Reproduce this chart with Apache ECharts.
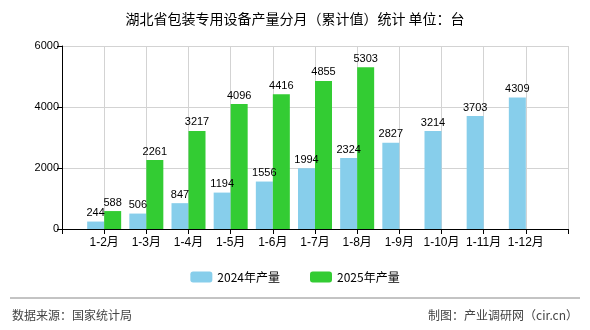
<!DOCTYPE html>
<html><head><meta charset="utf-8">
<script src="https://cdn.jsdelivr.net/npm/echarts@6/dist/echarts.min.js"></script>
<style>html,body{margin:0;padding:0;background:#fff}#c{width:590px;height:330px}</style>
</head><body><div id="c"></div>
<script>
var categories = ['1-2月','1-3月','1-4月','1-5月','1-6月','1-7月','1-8月','1-9月','1-10月','1-11月','1-12月'];
var values2024 = [244, 506, 847, 1194, 1556, 1994, 2324, 2827, 3214, 3703, 4309];
var values2025 = [588, 2261, 3217, 4096, 4416, 4855, 5303];
var yTicks = [0, 2000, 4000, 6000];

var axisCats = [''].concat(categories).concat(['']);
var s24 = [null].concat(values2024).concat([null]);
var s25 = [null].concat(values2025);
while (s25.length < axisCats.length) s25.push(null);

var chart = echarts.init(document.getElementById('c'));
var font = '"Liberation Sans", "Noto Sans CJK SC", sans-serif';
chart.setOption({
  animation: false,
  title: {
    text: '湖北省包装专用设备产量分月（累计值）统计 单位：台',
    left: 'center', top: 7,
    textStyle: {fontSize: 14, fontWeight: 'normal', color: '#000', fontFamily: '"Noto Sans CJK SC", sans-serif'}
  },
  grid: {left: 62, right: 22, top: 46, bottom: 101},
  legend: {
    bottom: 42, left: 'center', itemWidth: 22, itemHeight: 11, itemGap: 30,
    textStyle: {fontSize: 12, color: '#000', fontFamily: '"Noto Sans CJK SC", sans-serif'},
    data: ['2024年产量', '2025年产量']
  },
  xAxis: {
    type: 'category', data: axisCats, boundaryGap: false,
    axisLine: {lineStyle: {color: '#000'}},
    axisTick: {show: true, length: 5, lineStyle: {color: '#000'}},
    axisLabel: {color: '#000', fontSize: 12, margin: 8, interval: 0, fontFamily: font},
    splitLine: {show: true, lineStyle: {color: '#d3d3d3'}}
  },
  yAxis: {
    type: 'value', min: yTicks[0], max: yTicks[yTicks.length-1], interval: 2000,
    axisLine: {show: true, lineStyle: {color: '#000'}},
    axisTick: {show: true, length: 5, lineStyle: {color: '#000'}},
    axisLabel: {color: '#000', fontSize: 11, margin: 3, fontFamily: font, formatter: function (v) { return String(v); }},
    splitLine: {show: true, lineStyle: {color: '#d3d3d3'}}
  },
  series: [
    {name: '2024年产量', type: 'bar', data: s24, barWidth: 17, barGap: '0%',
     itemStyle: {color: '#87ceeb'},
     label: {show: true, position: 'top', color: '#000', fontSize: 11, fontFamily: font, distance: 3}},
    {name: '2025年产量', type: 'bar', data: s25, barWidth: 17, barGap: '0%',
     itemStyle: {color: '#33cc33'},
     label: {show: true, position: 'top', color: '#000', fontSize: 11, fontFamily: font, distance: 3}}
  ],
  graphic: [
    {type: 'line', shape: {x1: 10, y1: 298, x2: 580, y2: 298}, style: {stroke: '#888', lineWidth: 1}},
    {type: 'text', left: 12, top: 309, style: {text: '数据来源：国家统计局', fontSize: 12, fill: '#444', fontFamily: '"Noto Sans CJK SC", sans-serif'}},
    {type: 'text', right: 12, top: 309, style: {text: '制图：产业调研网（cir.cn）', fontSize: 12, fill: '#444', fontFamily: '"Noto Sans CJK SC", sans-serif'}}
  ]
});
</script></body></html>
